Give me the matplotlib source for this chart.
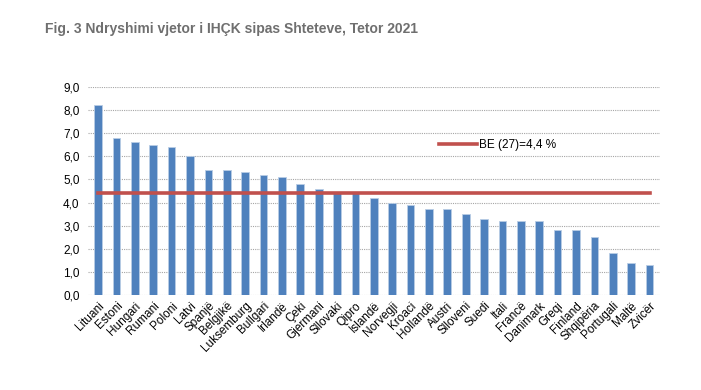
import numpy as np
import matplotlib.pyplot as plt
from matplotlib.ticker import FuncFormatter

plt.rcParams['font.family'] = ['Liberation Sans', 'DejaVu Sans']

# Vendet dhe ndryshimi vjetor (%)
vendet = ['Lituani', 'Estoni', 'Hungari', 'Rumani', 'Poloni', 'Latvi', 'Spanjë',
          'Belgjikë', 'Luksemburg', 'Bullgari', 'Irlandë', 'Çeki', 'Gjermani',
          'Sllovaki', 'Qipro', 'Islandë', 'Norvegji', 'Kroaci', 'Hollandë', 'Austri',
          'Slloveni', 'Suedi', 'Itali', 'Francë', 'Danimark', 'Greqi', 'Finland',
          'Shqipëria', 'Portugali', 'Maltë', 'Zvicër']
vlerat = [8.2, 6.8, 6.6, 6.5, 6.4, 6.0, 5.4, 5.4, 5.3, 5.2, 5.1, 4.8, 4.6,
          4.4, 4.4, 4.2, 4.0, 3.9, 3.7, 3.7, 3.5, 3.3, 3.2, 3.2, 3.2, 2.8, 2.8,
          2.5, 1.8, 1.4, 1.3]
be_mesatarja = 4.4
yticks = np.arange(0, 9.5, 1.0)

fig = plt.figure(figsize=(7.01, 3.90), dpi=100)
ax = fig.add_axes([0.1255, 0.2436, 0.8155, 0.5334])

x = np.arange(len(vendet))
ax.bar(x, vlerat, width=0.42, color='#4F81BD', edgecolor='#B9CDE5', linewidth=0.6, zorder=2)
ax.plot([x[0], x[-1]], [be_mesatarja, be_mesatarja], color='#C0504D', lw=2.6,
        label='BE (27)=4,4 %', zorder=3)

ax.set_xlim(-0.55, len(vendet) - 0.45)
ax.set_ylim(0, 9)
ax.set_yticks(yticks)
ax.yaxis.set_major_formatter(FuncFormatter(lambda v, p: f'{v:.1f}'.replace('.', ',')))
ax.yaxis.grid(True, linestyle=(0, (1, 1)), color='#A6A6A6', linewidth=0.8, zorder=0)
ax.set_axisbelow(True)
for s in ax.spines.values():
    s.set_visible(False)
ax.tick_params(axis='both', length=0, labelsize=8.5)
ax.tick_params(axis='y', pad=6)
ax.set_xticks(x)
ax.set_xticklabels(vendet, rotation=45, ha='right', rotation_mode='anchor', fontsize=8.5)

ax.legend(loc='upper left', bbox_to_anchor=(0.595, 0.80), frameon=False, fontsize=8.5,
          handlelength=3.2, handletextpad=0.2)

fig.text(0.064, 0.915, 'Fig. 3 Ndryshimi vjetor i IHÇK sipas Shteteve, Tetor 2021',
         fontsize=10, fontweight='bold', color='#6F6F6F')

fig.savefig('out.png', dpi=100)
